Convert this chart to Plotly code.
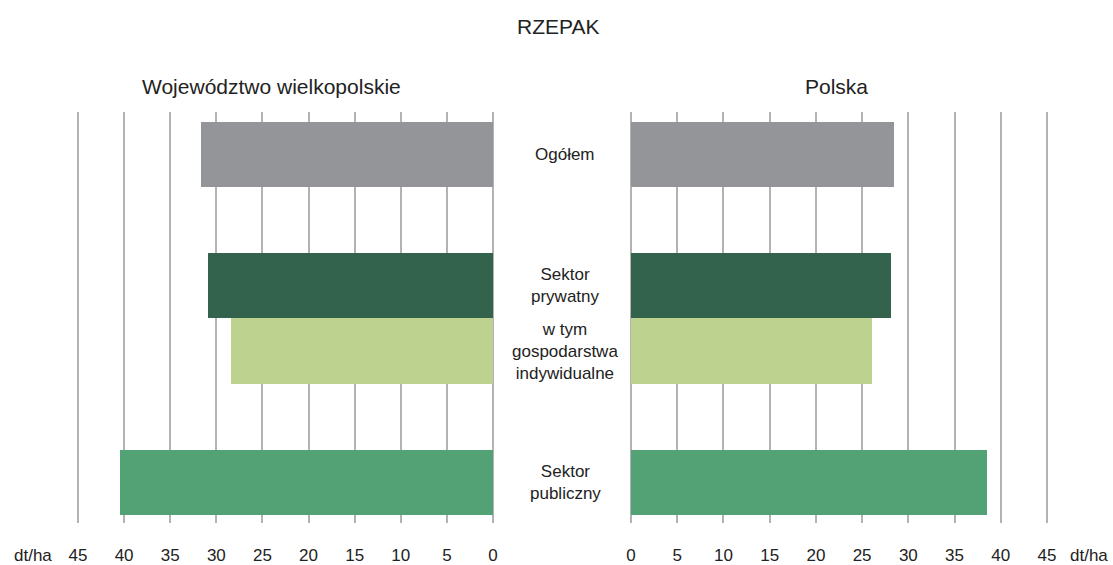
import plotly.graph_objects as go

# dt/ha, rzepak
categories = ["Ogółem", "Sektor<br>prywatny", "w tym<br>gospodarstwa<br>indywidualne", "Sektor<br>publiczny"]
wielkopolskie = [31.6, 30.9, 28.4, 40.4]
polska = [28.5, 28.2, 26.1, 38.6]
tick_vals = [0, 5, 10, 15, 20, 25, 30, 35, 40, 45]

# vertical slots for the bars (gap after Ogółem and before Sektor publiczny)
slots = [0, 2, 3, 5]
colors = ["#939598", "#33634C", "#BDD28F", "#52A275"]
FONT = "Liberation Sans, Arial, sans-serif"
TXT = "#222222"

fig = go.Figure()
fig.add_trace(go.Bar(x=wielkopolskie, y=slots, orientation="h", width=1.0,
                     marker=dict(color=colors, line=dict(width=0)),
                     xaxis="x", yaxis="y", hoverinfo="x"))
fig.add_trace(go.Bar(x=polska, y=slots, orientation="h", width=1.0,
                     marker=dict(color=colors, line=dict(width=0)),
                     xaxis="x2", yaxis="y", hoverinfo="x"))

W, H = 1113, 565
T, B = 112, 42
PAD = 0.6  # axis padding so the 45 grid line is not dropped at the edge
axis_common = dict(
    tickvals=tick_vals, ticktext=[str(v) for v in tick_vals],
    showgrid=True, gridcolor="#B3B3B3", gridwidth=1.5,
    zeroline=True, zerolinecolor="#B3B3B3", zerolinewidth=1.5,
    showline=False, ticks="outside", ticklen=17, tickcolor="rgba(0,0,0,0)",
    tickfont=dict(family=FONT, size=17, color=TXT), fixedrange=True,
    automargin=False,
)
# left: 45 at x=78px, 0 at x=493px ; right: 0 at x=631px, 45 at x=1047px
lu = (493 - 78) / 45
ru = (1047 - 631) / 45
fig.update_layout(
    width=W, height=H,
    margin=dict(l=0, r=0, t=T, b=B, autoexpand=False),
    plot_bgcolor="white", paper_bgcolor="white",
    showlegend=False, bargap=0,
    xaxis=dict(domain=[(78 - PAD * lu) / W, (493 + PAD * lu) / W],
               range=[45 + PAD, -PAD], **axis_common),
    xaxis2=dict(domain=[(631 - PAD * ru) / W, (1047 + PAD * ru) / W],
                range=[-PAD, 45 + PAD], anchor="y", **axis_common),
    yaxis=dict(range=[5.62, -0.65], showgrid=False, zeroline=False,
               showticklabels=False, ticks="", fixedrange=True, automargin=False),
    font=dict(family=FONT, color=TXT),
)

def paper_y(py):
    return (H - B - py) / (H - T - B)

annotations = [
    dict(text="RZEPAK", x=558, y=26, size=21),
    dict(text="Województwo wielkopolskie", x=271, y=86, size=21),
    dict(text="Polska", x=836, y=86, size=21),
    dict(text="dt/ha", x=33, y=555, size=17),
    dict(text="dt/ha", x=1089, y=555, size=17),
]
for a in annotations:
    fig.add_annotation(text=a["text"], xref="paper", yref="paper",
                       x=a["x"] / W, y=paper_y(a["y"]),
                       xanchor="center", yanchor="middle", showarrow=False,
                       font=dict(family=FONT, size=a["size"], color=TXT))

for cat, s in zip(categories, slots):
    fig.add_annotation(text=cat, xref="paper", yref="y", x=565 / W, y=s,
                       xanchor="center", yanchor="middle", showarrow=False,
                       font=dict(family=FONT, size=17, color=TXT))

fig.write_html("out.html", config={"responsive": False, "displayModeBar": False},
               post_script="document.body.style.margin='0';")
